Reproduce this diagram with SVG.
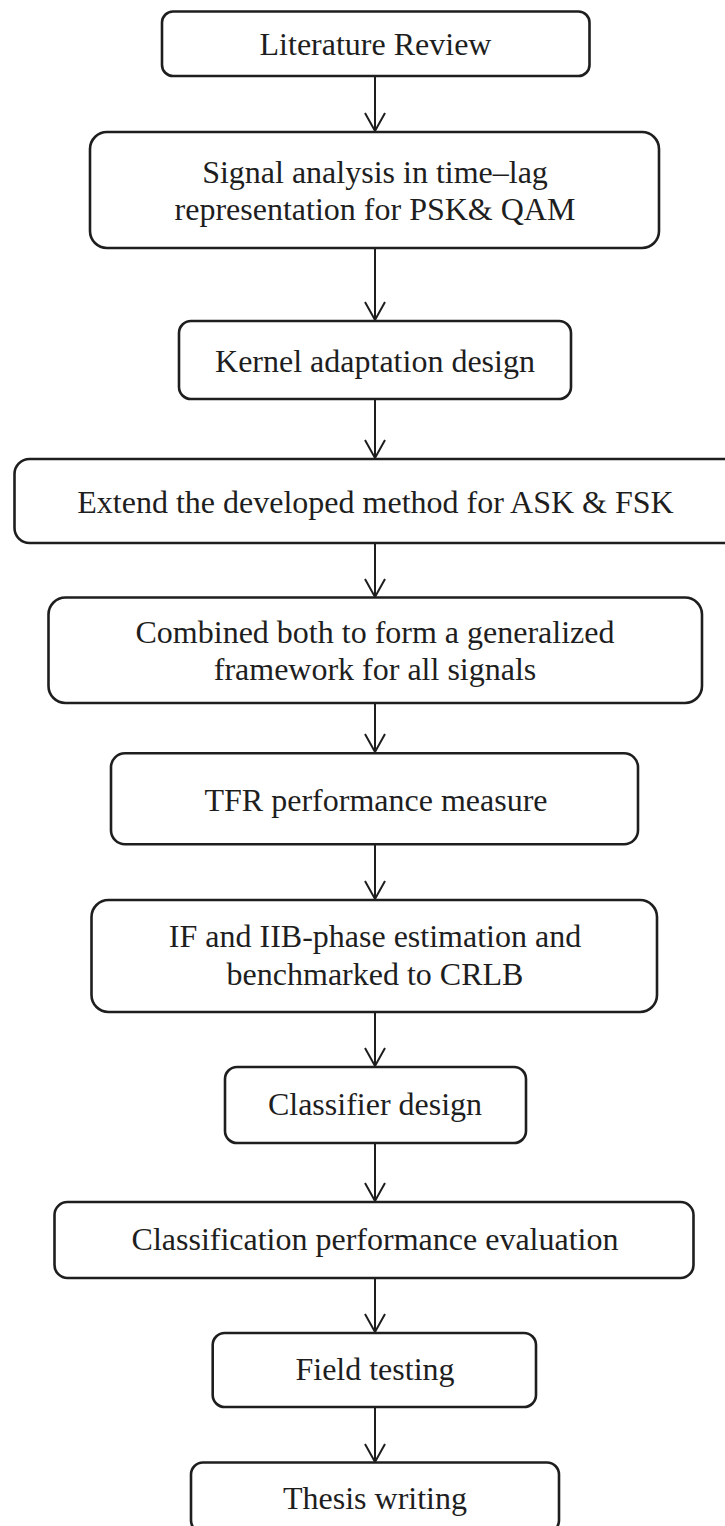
<svg xmlns="http://www.w3.org/2000/svg" width="725" height="1526" viewBox="0 0 725 1526">
<style>
.box{fill:#fff;stroke:#1e1e1e;stroke-width:2.6}
.t{font-family:"Liberation Serif","Times New Roman",serif;font-size:32px;fill:#1e1e1e;text-anchor:middle}
.c{stroke:#1e1e1e;stroke-width:2;fill:none}
</style>
<defs>
<marker id="ah" markerWidth="24" markerHeight="24" refX="19" refY="11" orient="auto" markerUnits="userSpaceOnUse">
<path d="M1,1 L19,11 L1,21" fill="none" stroke="#1e1e1e" stroke-width="2"/>
</marker>
</defs>
<rect width="725" height="1526" fill="#fff"/>
<g id="connectors">
<line class="c" x1="375" y1="76" x2="375" y2="131" marker-end="url(#ah)"/>
<line class="c" x1="375" y1="248" x2="375" y2="320" marker-end="url(#ah)"/>
<line class="c" x1="375" y1="399" x2="375" y2="458" marker-end="url(#ah)"/>
<line class="c" x1="375" y1="543" x2="375" y2="597" marker-end="url(#ah)"/>
<line class="c" x1="375" y1="703" x2="375" y2="752" marker-end="url(#ah)"/>
<line class="c" x1="375" y1="844" x2="375" y2="899" marker-end="url(#ah)"/>
<line class="c" x1="375" y1="1012" x2="375" y2="1066" marker-end="url(#ah)"/>
<line class="c" x1="375" y1="1143" x2="375" y2="1201" marker-end="url(#ah)"/>
<line class="c" x1="375" y1="1278" x2="375" y2="1332" marker-end="url(#ah)"/>
<line class="c" x1="375" y1="1407" x2="375" y2="1462" marker-end="url(#ah)"/>
</g>
<g id="n1"><rect class="box" x="162" y="11.5" width="427.5" height="64.5" rx="11"/><text class="t" x="375.5" y="55">Literature Review</text></g>
<g id="n2"><rect class="box" x="90" y="132" width="569" height="116" rx="17"/><text class="t" x="375" y="183">Signal analysis in time–lag</text><text class="t" x="375" y="220">representation for PSK&amp; QAM</text></g>
<g id="n3"><rect class="box" x="179" y="321" width="392" height="78" rx="12"/><text class="t" x="375" y="372">Kernel adaptation design</text></g>
<g id="n4"><rect class="box" x="14.5" y="459" width="740" height="84" rx="15"/><text class="t" x="375.5" y="513">Extend the developed method for ASK &amp; FSK</text></g>
<g id="n5"><rect class="box" x="48.5" y="597.5" width="653.5" height="105.5" rx="17"/><text class="t" x="375" y="643">Combined both to form a generalized</text><text class="t" x="375" y="680">framework for all signals</text></g>
<g id="n6"><rect class="box" x="111" y="753.3" width="527" height="91" rx="14"/><text class="t" x="376" y="811">TFR performance measure</text></g>
<g id="n7"><rect class="box" x="91.5" y="900" width="565.5" height="112" rx="17"/><text class="t" x="375" y="947">IF and IIB-phase estimation and</text><text class="t" x="375" y="985">benchmarked to CRLB</text></g>
<g id="n8"><rect class="box" x="225" y="1067" width="301" height="76" rx="12"/><text class="t" x="375" y="1115">Classifier design</text></g>
<g id="n9"><rect class="box" x="54.5" y="1202" width="639" height="76" rx="13"/><text class="t" x="375" y="1250">Classification performance evaluation</text></g>
<g id="n10"><rect class="box" x="212.7" y="1333" width="323.3" height="74" rx="12"/><text class="t" x="375" y="1380">Field testing</text></g>
<g id="n11"><rect class="box" x="191" y="1462.5" width="368" height="70" rx="12"/><text class="t" x="375" y="1508.5">Thesis writing</text></g>
</svg>
